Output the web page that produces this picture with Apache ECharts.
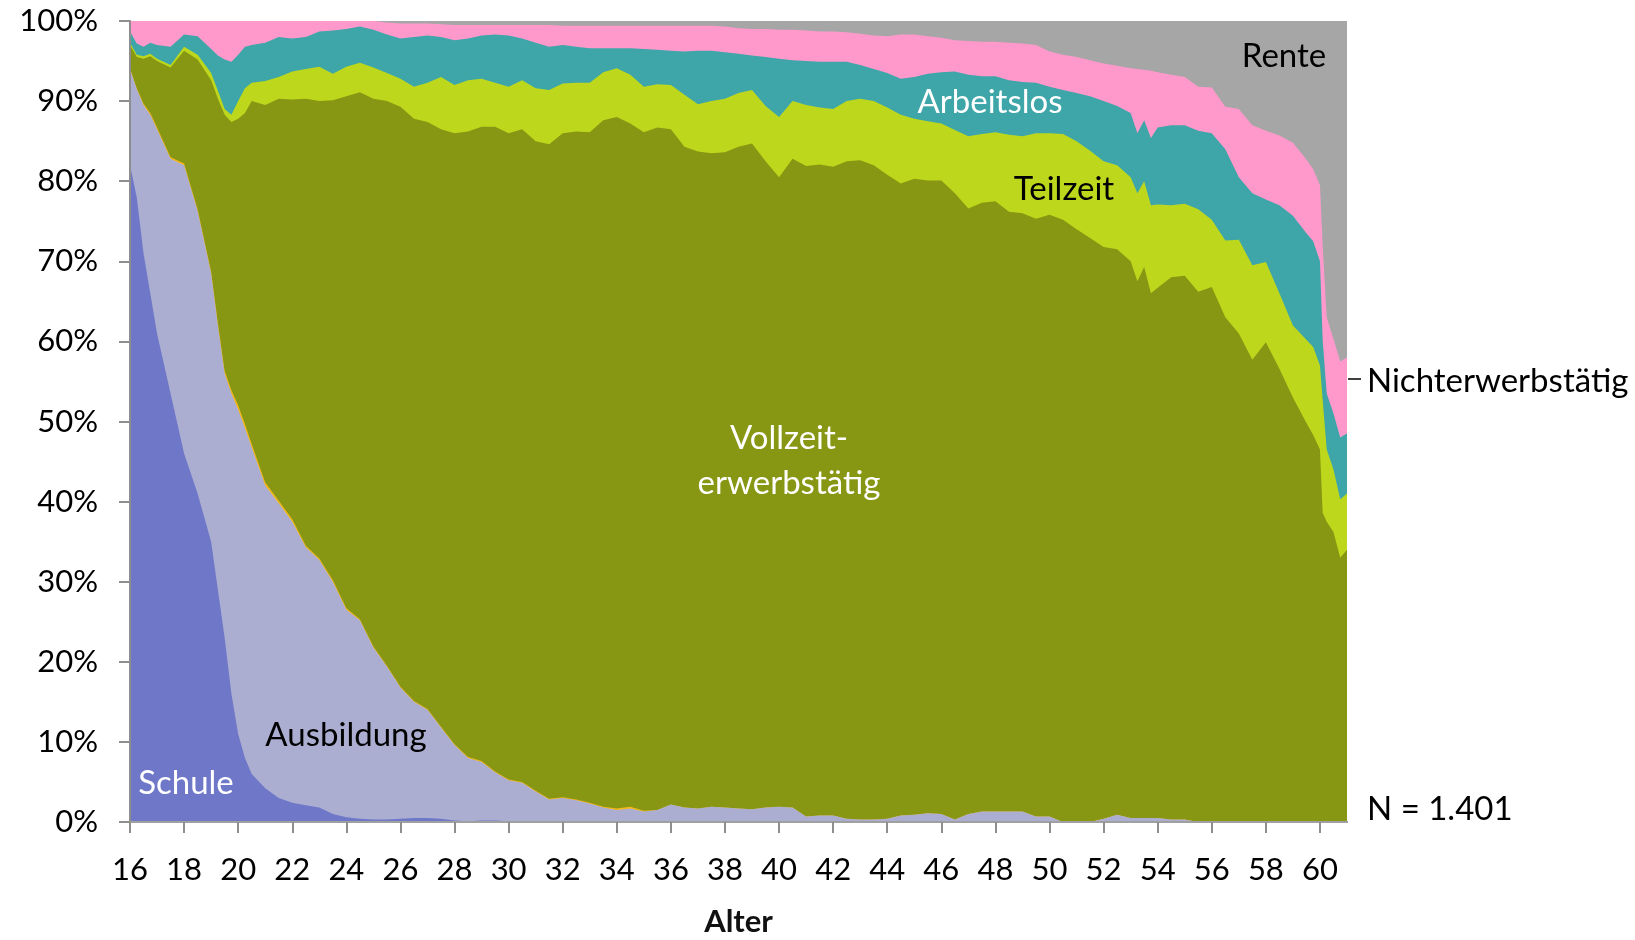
<!DOCTYPE html>
<html>
<head>
<meta charset="utf-8">
<title>Erwerbsstatus nach Alter</title>
<script src="https://cdn.jsdelivr.net/npm/echarts@6.0.0/dist/echarts.min.js"></script>
<style>
  html, body { margin: 0; padding: 0; background: #fff; }
  #chart { width: 1635px; height: 940px; }
</style>
</head>
<body>
<div id="chart"></div>
<script>
// Alter in Jahren (x-Werte)
const alter = [
  16, 16.25, 16.5, 16.75, 17, 17.5, 18, 18.5, 19, 19.25,
  19.5, 19.75, 20, 20.25, 20.5, 21, 21.5, 22, 22.5, 23,
  23.5, 24, 24.5, 25, 25.5, 26, 26.5, 27, 27.5, 28,
  28.5, 29, 29.5, 30, 30.5, 31, 31.5, 32, 32.5, 33,
  33.5, 34, 34.5, 35, 35.5, 36, 36.5, 37, 37.5, 38,
  38.5, 39, 39.5, 40, 40.5, 41, 41.5, 42, 42.5, 43,
  43.5, 44, 44.5, 45, 45.5, 46, 46.5, 47, 47.5, 48,
  48.5, 49, 49.5, 50, 50.5, 51, 51.5, 52, 52.5, 53,
  53.25, 53.5, 53.75, 54, 54.5, 55, 55.5, 56, 56.5, 57,
  57.5, 58, 58.5, 59, 59.5, 59.75, 60, 60.1, 60.25, 60.5,
  60.75, 61
];

// kumulierte Anteile in % (Obergrenze der jeweiligen Schicht)
const schule = [
  82, 78, 71, 66, 61, 53.5, 46, 41, 35, 29,
  23, 16, 11, 8, 6, 4.2, 3, 2.4, 2.1, 1.8,
  1, 0.6, 0.4, 0.3, 0.3, 0.4, 0.5, 0.5, 0.4, 0.2,
  0.1, 0.2, 0.2, 0.1, 0, 0, 0, 0, 0, 0,
  0, 0, 0, 0, 0, 0, 0, 0, 0, 0,
  0, 0, 0, 0, 0, 0, 0, 0, 0, 0,
  0, 0, 0, 0, 0, 0, 0, 0, 0, 0,
  0, 0, 0, 0, 0, 0, 0, 0, 0, 0,
  0, 0, 0, 0, 0, 0, 0, 0, 0, 0,
  0, 0, 0, 0, 0, 0, 0, 0, 0, 0,
  0, 0
];

const bisAusbildung = [
  94, 91.5, 89.5, 88.3, 86.5, 82.8, 82, 76.3, 68.5, 62,
  56, 53.5, 51.5, 49.2, 46.8, 42, 39.8, 37.5, 34.3, 32.7,
  30, 26.5, 25.2, 21.8, 19.4, 16.8, 15, 14, 11.8, 9.6,
  8, 7.5, 6.2, 5.2, 4.9, 3.8, 2.8, 3, 2.7, 2.3,
  1.8, 1.5, 1.7, 1.3, 1.5, 2.2, 1.8, 1.7, 1.9, 1.8,
  1.7, 1.6, 1.8, 1.9, 1.8, 0.7, 0.8, 0.8, 0.4, 0.3,
  0.3, 0.4, 0.8, 0.9, 1.1, 1, 0.3, 1, 1.3, 1.3,
  1.3, 1.3, 0.7, 0.7, 0, 0, 0, 0.4, 0.9, 0.5,
  0.5, 0.5, 0.5, 0.5, 0.3, 0.3, 0, 0, 0, 0,
  0, 0, 0, 0, 0, 0, 0, 0, 0, 0,
  0, 0
];

const bisSonstige = [
  94.1, 91.6, 89.7, 88.5, 86.7, 83, 82.2, 76.5, 68.7, 62.3,
  56.3, 53.9, 52, 49.7, 47.2, 42.4, 40.1, 37.8, 34.5, 32.9,
  30.2, 26.7, 25.3, 21.9, 19.5, 16.9, 15.1, 14.1, 11.9, 9.7,
  8.1, 7.6, 6.3, 5.3, 5, 3.9, 2.9, 3.1, 2.8, 2.4,
  1.9, 1.7, 1.9, 1.4, 1.5, 2.2, 1.8, 1.7, 1.9, 1.8,
  1.7, 1.6, 1.8, 1.9, 1.8, 0.7, 0.8, 0.8, 0.4, 0.3,
  0.3, 0.4, 0.8, 0.9, 1.1, 1, 0.3, 1, 1.3, 1.3,
  1.3, 1.3, 0.7, 0.7, 0, 0, 0, 0.4, 0.9, 0.5,
  0.5, 0.5, 0.5, 0.5, 0.3, 0.3, 0, 0, 0, 0,
  0, 0, 0, 0, 0, 0, 0, 0, 0, 0,
  0, 0
];

const bisVollzeit = [
  97, 95.5, 95.3, 95.6, 95, 94.2, 96.3, 95.2, 92.6, 90.3,
  88.3, 87.4, 87.8, 88.5, 90, 89.5, 90.3, 90.2, 90.3, 90,
  90.1, 90.6, 91.1, 90.3, 90, 89.3, 87.8, 87.4, 86.5, 86,
  86.2, 86.8, 86.8, 86, 86.5, 85, 84.6, 86, 86.2, 86.1,
  87.6, 88, 87.2, 86.1, 86.7, 86.5, 84.3, 83.7, 83.5, 83.6,
  84.3, 84.7, 82.5, 80.5, 82.8, 81.9, 82.1, 81.8, 82.5, 82.6,
  82, 80.8, 79.7, 80.3, 80.1, 80.1, 78.5, 76.6, 77.3, 77.5,
  76.2, 76, 75.3, 75.8, 75.2, 74, 72.9, 71.8, 71.5, 70,
  67.5, 69.3, 66, 66.7, 68, 68.2, 66.2, 66.8, 63, 61,
  57.7, 59.9, 56.6, 53, 49.8, 48.3, 46.5, 38.6, 37.5, 36.2,
  33, 34
];

const bisTeilzeit = [
  97.3, 95.8, 95.6, 95.9, 95.3, 94.5, 96.8, 95.8, 93.5, 91.3,
  89, 88.3, 90, 91.6, 92.3, 92.5, 93, 93.7, 94, 94.3,
  93.4, 94.3, 94.8, 94.2, 93.5, 92.8, 91.8, 92.3, 93, 92,
  92.6, 92.8, 92.3, 91.8, 92.6, 91.6, 91.4, 92.2, 92.3, 92.3,
  93.6, 94.1, 93.3, 91.8, 92.1, 92, 90.8, 89.6, 90, 90.3,
  91, 91.4, 89.4, 88, 90, 89.5, 89.2, 89, 90, 90.3,
  90, 89.2, 88.3, 87.8, 87.5, 87.2, 86.4, 85.6, 85.9, 86.1,
  85.8, 85.6, 86, 86, 85.9, 85, 83.8, 82.5, 82, 80.5,
  78.5, 80, 77, 77.1, 77, 77.2, 76.5, 75.2, 72.6, 72.7,
  69.5, 69.9, 66, 62, 60.2, 59.3, 57, 52.7, 46.5, 44,
  40.3, 41
];

const bisArbeitslos = [
  98.7, 97.2, 96.8, 97.3, 97, 96.8, 98.3, 98.1, 96.5, 95.7,
  95.2, 94.9, 95.8, 96.8, 97, 97.3, 98, 97.8, 98, 98.7,
  98.8, 99, 99.3, 98.9, 98.3, 97.8, 98, 98.2, 98, 97.6,
  97.8, 98.2, 98.3, 98.2, 97.8, 97.3, 96.8, 97, 96.8, 96.6,
  96.6, 96.6, 96.6, 96.5, 96.4, 96.3, 96.2, 96.3, 96.3, 96.1,
  95.9, 95.7, 95.5, 95.3, 95.1, 95, 94.9, 94.9, 94.9, 94.5,
  94, 93.5, 92.8, 93, 93.4, 93.6, 93.7, 93.3, 93.1, 93.1,
  92.6, 92.4, 92.3, 91.8, 91.4, 91, 90.6, 90, 89.4, 88.5,
  86, 87.6, 85.4, 86.7, 87, 87, 86.3, 86, 84, 80.5,
  78.5, 77.7, 77, 75.7, 73.5, 72.5, 70, 60.2, 53.5, 51,
  48, 48.5
];

const bisNichterwerb = [
  100, 100, 100, 100, 100, 100, 100, 100, 100, 100,
  100, 100, 100, 100, 100, 100, 100, 100, 100, 100,
  100, 100, 100, 100, 99.8, 99.7, 99.7, 99.7, 99.6, 99.5,
  99.5, 99.5, 99.5, 99.5, 99.5, 99.5, 99.5, 99.4, 99.4, 99.4,
  99.4, 99.4, 99.4, 99.4, 99.4, 99.4, 99.4, 99.4, 99.4, 99.3,
  99.1, 99, 99, 98.9, 98.9, 98.8, 98.7, 98.7, 98.6, 98.4,
  98.2, 98.1, 98.3, 98.3, 98.1, 97.9, 97.6, 97.5, 97.4, 97.4,
  97.3, 97.2, 97, 96.2, 95.8, 95.5, 95.1, 94.7, 94.4, 94.1,
  94, 93.9, 93.8, 93.6, 93.3, 93, 91.8, 91.7, 89.3, 89,
  87, 86.3, 85.7, 84.8, 82.7, 81.5, 79.5, 72, 63, 60.3,
  57.5, 58
];

// Rente reicht bis 100 %
const bisRente = [
  100, 100, 100, 100, 100, 100, 100, 100, 100, 100,
  100, 100, 100, 100, 100, 100, 100, 100, 100, 100,
  100, 100, 100, 100, 100, 100, 100, 100, 100, 100,
  100, 100, 100, 100, 100, 100, 100, 100, 100, 100,
  100, 100, 100, 100, 100, 100, 100, 100, 100, 100,
  100, 100, 100, 100, 100, 100, 100, 100, 100, 100,
  100, 100, 100, 100, 100, 100, 100, 100, 100, 100,
  100, 100, 100, 100, 100, 100, 100, 100, 100, 100,
  100, 100, 100, 100, 100, 100, 100, 100, 100, 100,
  100, 100, 100, 100, 100, 100, 100, 100, 100, 100,
  100, 100
];

const xTicks = [16, 18, 20, 22, 24, 26, 28, 30, 32, 34, 36, 38, 40, 42, 44, 46, 48, 50, 52, 54, 56, 58, 60];

const FONT = 'Lato, "Noto Sans", sans-serif';
const axisGray = '#8e8e8e';

// layers drawn back to front, each filled down to 0 %
const layers = [
  { name: 'Rente', data: bisRente, color: '#a6a6a6' },
  { name: 'Nichterwerbstätig', data: bisNichterwerb, color: '#ff99cc' },
  { name: 'Arbeitslos', data: bisArbeitslos, color: '#3ea6a8' },
  { name: 'Teilzeit', data: bisTeilzeit, color: '#bdd81c' },
  { name: 'Vollzeit-erwerbstätig', data: bisVollzeit, color: '#879613' },
  { name: 'Sonstige', data: bisSonstige, color: '#f7b918' },
  { name: 'Ausbildung', data: bisAusbildung, color: '#abaed0' },
  { name: 'Schule', data: schule, color: '#6f78c8' },
];

const chart = echarts.init(document.getElementById('chart'), null, { renderer: 'canvas' });

const label = (text, x, y, fill, align) => ({
  type: 'text',
  x: x,
  y: y,
  z: 100,
  style: {
    text: text,
    fill: fill,
    font: '33px ' + FONT,
    align: align || 'center',
    verticalAlign: 'middle',
  },
});

chart.setOption({
  animation: false,
  backgroundColor: '#fff',
  grid: { left: 130, right: 288, top: 21, bottom: 118, containLabel: false, outerBoundsMode: 'none' },
  xAxis: [
    {
      type: 'value',
      min: 16,
      max: 61,
      interval: 2,
      z: 5,
      axisLine: { show: true, onZero: false, lineStyle: { color: axisGray, width: 2 } },
      axisTick: { show: true, length: 11, customValues: xTicks, lineStyle: { color: axisGray, width: 2 } },
      axisLabel: { customValues: xTicks, margin: 32, fontSize: 31, color: '#000', fontFamily: FONT },
      splitLine: { show: false },
      name: 'Alter',
      nameLocation: 'middle',
      nameGap: 84,
      nameTextStyle: { fontSize: 31, fontWeight: 'bold', color: '#111', fontFamily: FONT },
    },
    {
      type: 'value',
      position: 'top',
      min: 16,
      max: 61,
      z: 5,
      axisLine: { show: true, lineStyle: { color: '#a0a0a0', width: 2 } },
      axisTick: { show: false },
      axisLabel: { show: false },
      splitLine: { show: false },
    },
  ],
  yAxis: {
    type: 'value',
    min: 0,
    max: 100,
    interval: 10,
    z: 5,
    axisLine: { show: true, lineStyle: { color: axisGray, width: 2 } },
    axisTick: { show: true, length: 11, lineStyle: { color: axisGray, width: 2 } },
    axisLabel: { formatter: '{value}%', margin: 32, fontSize: 31, color: '#000', fontFamily: FONT },
    splitLine: { show: false },
  },
  series: layers.map((l) => ({
    name: l.name,
    type: 'line',
    data: alter.map((a, i) => [a, l.data[i]]),
    showSymbol: false,
    symbol: 'none',
    smooth: false,
    silent: true,
    color: l.color,
    lineStyle: { width: 0, color: l.color },
    areaStyle: { color: l.color, opacity: 1, origin: 'start' },
  })),
  graphic: [
    label('Schule', 186, 783, '#fff'),
    label('Ausbildung', 346, 735, '#000'),
    label('Vollzeit-', 789, 438, '#fff'),
    label('erwerbstätig', 789, 483, '#fff'),
    label('Teilzeit', 1064, 189, '#000'),
    label('Arbeitslos', 990, 102, '#fff'),
    label('Rente', 1284, 56, '#000'),
    label('Nichterwerbstätig', 1367, 381, '#000', 'left'),
    label('N = 1.401', 1367, 809, '#000', 'left'),
    {
      type: 'line',
      z: 100,
      shape: { x1: 1348, y1: 379, x2: 1361, y2: 379 },
      style: { stroke: '#000', lineWidth: 1.5 },
    },
  ],
});

window.addEventListener('resize', () => chart.resize());
</script>
</body>
</html>
